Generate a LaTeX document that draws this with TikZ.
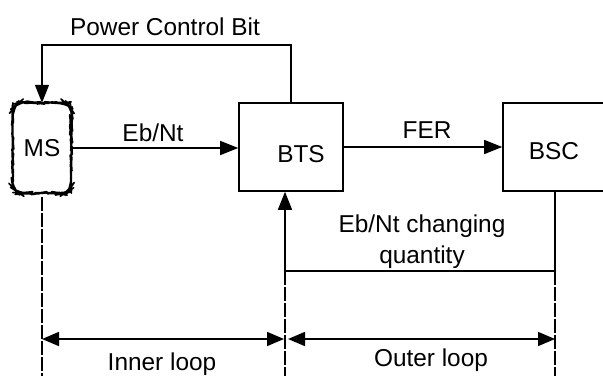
\documentclass[tikz,border=0pt]{standalone}
\usepackage{fontspec}
\setmainfont{Liberation Sans}
\usetikzlibrary{arrows.meta,calc,decorations.pathmorphing}
\begin{document}
\begin{tikzpicture}[x=1pt,y=-1pt,
  every node/.style={font=\fontsize{24.4}{31}\selectfont},
  box/.style={draw,line width=1.6pt,inner sep=0pt},
  plainbox/.style={inner sep=0pt},
  wavy/.style={line width=1.6pt,line join=round,
    decorate,decoration={random steps,segment length=4pt,amplitude=0.45pt}},
  conn/.style={line width=1.6pt},
  arr/.style={conn,-{Triangle[length=18pt,width=14pt]}},
  dim/.style={line width=1.6pt,{Triangle[length=17pt,width=14pt]}-{Triangle[length=17pt,width=14pt]}},
  guide/.style={line width=1.3pt,dash pattern=on 14pt off 2pt}]
\pgfmathsetseed{7}
\useasboundingbox (0,0) rectangle (603,376);
\clip (0,0) rectangle (603,376);
% boxes
\node[plainbox,minimum width=58pt,minimum height=90pt] (ms) at (42,148) {MS};
\draw[wavy,rounded corners=10pt] (ms.south west) rectangle (ms.north east);
\node[box,minimum width=104pt,minimum height=88pt] (bts) at (291,147) {};
\node (btstext) at (301,154) {BTS};
\node[box,minimum width=120pt,minimum height=88pt] (bsc) at (563,147) {};
\node (bsctext) at (554,151) {BSC};
% coordinates
\coordinate (top) at (0,45);
\coordinate (j) at (285,271);
\coordinate (k) at (555,271);
\coordinate (bot) at (0,376);
\coordinate (dy) at (0,339);
% connectors
\draw[arr] (bts.north) -- (bts.north |- top) -| (ms.north);
\draw[arr] (ms.east) -- (ms.east -| bts.west);
\draw[arr] (bts.east) -- (bts.east -| bsc.west);
\draw[arr] (j) -- (j |- bts.south);
\draw[conn] (k |- bsc.south) -- (k) -- (j);
% guide lines
\draw[guide] ($(ms.south)+(0,4)$) -- (ms.south |- bot);
\draw[guide] (j) -- (j |- bot);
\draw[guide] (k) -- (k |- bot);
% dimension arrows
\draw[dim] (ms.south |- dy) -- ($(j |- dy)+(-1,0)$);
\draw[dim] ($(j |- dy)+(3,0)$) -- (k |- dy);
% labels
\node (pcb) at (165,27) {Power Control Bit};
\node (ebnt) at (153,133) {Eb/Nt};
\node (fer) at (427,130) {FER};
\node[align=center] (chg) at (422,242) {Eb/Nt changing\\quantity};
\node (inner) at (162,364) {Inner loop};
\node (outer) at (431,360) {Outer loop};
\end{tikzpicture}
\end{document}
